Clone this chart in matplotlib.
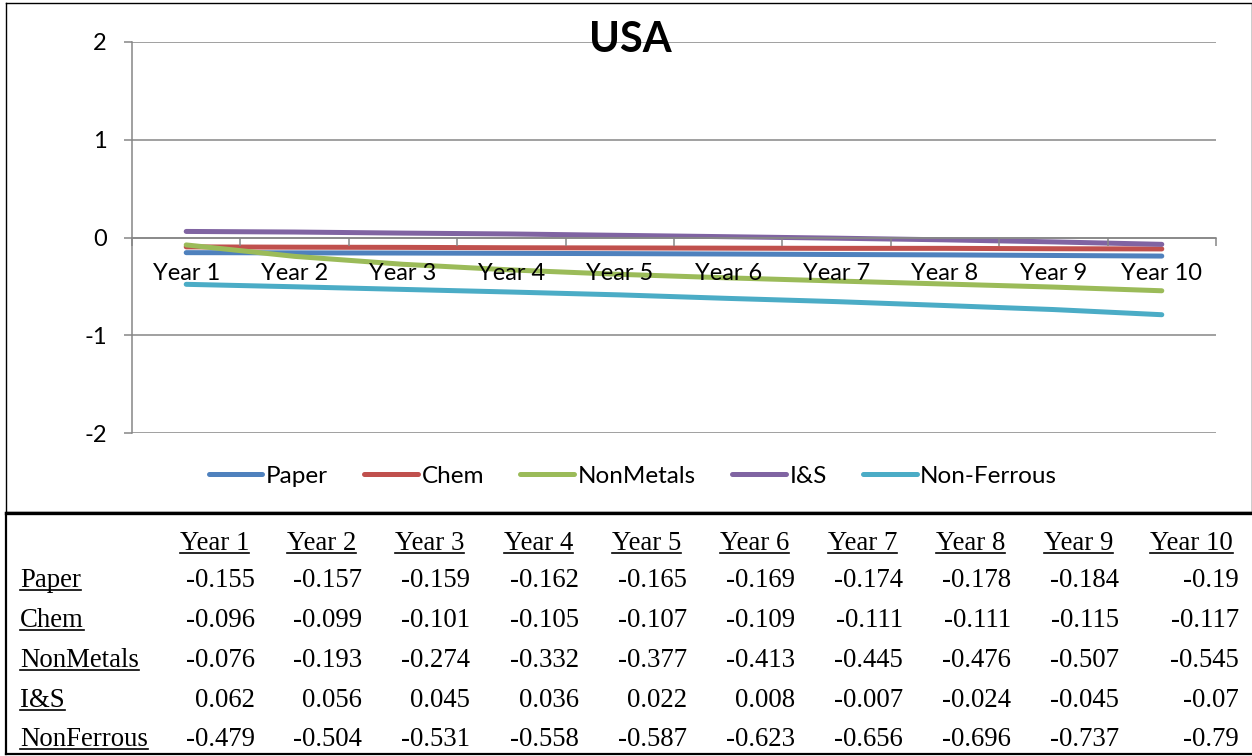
import matplotlib
matplotlib.use("Agg")
import matplotlib.pyplot as plt
from matplotlib.lines import Line2D

# Data
years = ["Year 1", "Year 2", "Year 3", "Year 4", "Year 5",
         "Year 6", "Year 7", "Year 8", "Year 9", "Year 10"]
paper = [-0.155, -0.157, -0.159, -0.162, -0.165, -0.169, -0.174, -0.178, -0.184, -0.19]
chem = [-0.096, -0.099, -0.101, -0.105, -0.107, -0.109, -0.111, -0.111, -0.115, -0.117]
nonmetals = [-0.076, -0.193, -0.274, -0.332, -0.377, -0.413, -0.445, -0.476, -0.507, -0.545]
i_s = [0.062, 0.056, 0.045, 0.036, 0.022, 0.008, -0.007, -0.024, -0.045, -0.07]
nonferrous = [-0.479, -0.504, -0.531, -0.558, -0.587, -0.623, -0.656, -0.696, -0.737, -0.79]

legend_names = ["Paper", "Chem", "NonMetals", "I&S", "Non-Ferrous"]
table_names = ["Paper", "Chem", "NonMetals", "I&S", "NonFerrous"]
series = [paper, chem, nonmetals, i_s, nonferrous]
colors = ["#4F81BD", "#C0504D", "#9BBB59", "#8064A2", "#4BACC6"]

W, H = 1252, 756
fig = plt.figure(figsize=(W / 100, H / 100), dpi=100)

def fx(px):
    return px / W

def fy(py):
    return 1 - py / H

chart_font = "Lato"
table_font = "Liberation Serif"
grey = "#868686"

# Chart area
ax = fig.add_axes([fx(132), fy(433), fx(1216) - fx(132), fy(42) - fy(433)])
x = list(range(len(years)))
for vals, name, c in zip(series, legend_names, colors):
    ax.plot(x, vals, color=c, lw=3.6, solid_capstyle="round", label=name)

ax.set_xlim(-0.5, len(years) - 0.5)
ax.set_ylim(-2, 2)
ax.set_yticks([-2, -1, 0, 1, 2])
ax.set_yticklabels(["-2", "-1", "0", "1", "2"], fontsize=17, family=chart_font)
ax.tick_params(axis="y", length=6, width=1.1, color=grey, pad=12)
ax.grid(axis="y", color=grey, lw=1.1)
ax.set_axisbelow(False)

for s in ["top", "right"]:
    ax.spines[s].set_visible(False)
ax.spines["left"].set_color(grey)
ax.spines["left"].set_linewidth(1.1)
ax.spines["bottom"].set_position(("data", 0))
ax.spines["bottom"].set_color(grey)
ax.spines["bottom"].set_linewidth(1.1)

# tick marks between categories, labels at the centres
ax.set_xticks([i - 0.5 for i in range(len(years) + 1)])
ax.set_xticklabels([])
ax.tick_params(axis="x", which="major", length=6, width=1.1, color=grey)
ax.set_xticks(x, minor=True)
ax.set_xticklabels(years, minor=True, fontsize=17, family=chart_font)
ax.tick_params(axis="x", which="minor", length=0, pad=18)

fig.text(fx(630), fy(40), "USA", ha="center", va="center",
         fontsize=30, fontweight="bold", family=chart_font)

fig.legend(loc="center", bbox_to_anchor=(fx(633), fy(476)), ncol=5,
           frameon=False, prop={"family": chart_font, "size": 17.5},
           handlelength=2.2, handletextpad=0.15, columnspacing=1.5)

# Frames around the chart and the table
fig.add_artist(Line2D([fx(6), fx(1252), fx(1252), fx(6), fx(6)],
                      [fy(3), fy(3), fy(512), fy(512), fy(3)],
                      color="black", lw=1.0, transform=fig.transFigure))
fig.add_artist(Line2D([fx(6), fx(1252)], [fy(513), fy(513)],
                      color="black", lw=2.4, transform=fig.transFigure))
fig.add_artist(Line2D([fx(6), fx(6)], [fy(513), fy(754)],
                      color="black", lw=1.6, transform=fig.transFigure))
fig.add_artist(Line2D([fx(6), fx(1252)], [fy(754), fy(754)],
                      color="black", lw=1.6, transform=fig.transFigure))

# Data table
col_right = [255, 362, 470, 579, 687, 795, 903, 1011, 1119, 1239]
row_base = [587, 627, 667, 707, 746]
head_base = 550
tsize = 19.3

underlined = []
for xr, yr in zip(col_right, years):
    t = fig.text(fx(xr - 6), fy(head_base), yr, ha="right", va="baseline",
                 fontsize=tsize, family=table_font)
    underlined.append((t, head_base))

for name, vals, yb in zip(table_names, series, row_base):
    t = fig.text(fx(20), fy(yb), name, ha="left", va="baseline",
                 fontsize=tsize, family=table_font)
    underlined.append((t, yb))
    for xr, v in zip(col_right, vals):
        fig.text(fx(xr), fy(yb), f"{v:g}", ha="right", va="baseline",
                 fontsize=tsize, family=table_font)

fig.canvas.draw()
renderer = fig.canvas.get_renderer()
for t, yb in underlined:
    bb = t.get_window_extent(renderer)
    fig.add_artist(Line2D([bb.x0 / W, bb.x1 / W], [fy(yb + 3), fy(yb + 3)],
                          color="black", lw=1.2, transform=fig.transFigure))

fig.savefig("out.png", dpi=100)
